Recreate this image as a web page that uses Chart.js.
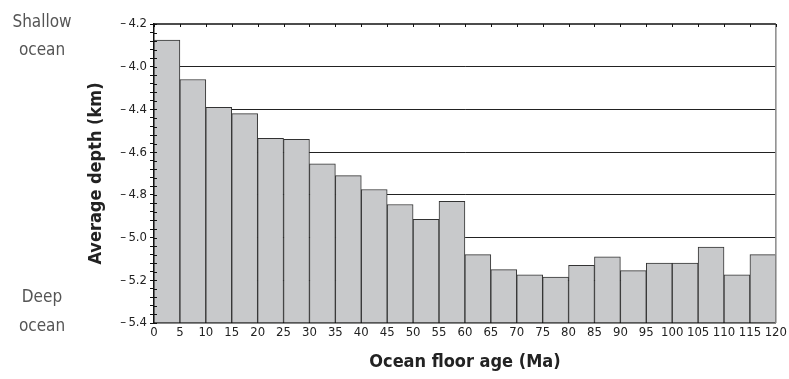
<!DOCTYPE html>
<html>
<head>
<meta charset="utf-8">
<script src="https://cdn.jsdelivr.net/npm/chart.js@4/dist/chart.umd.min.js"></script>
<style>
  html, body { margin: 0; padding: 0; background: #fff; }
  #wrap { width: 789px; height: 379px; }
</style>
</head>
<body>
<div id="wrap"><canvas id="myChart"></canvas></div>
<script>
// data
const ageBinStart = [0, 5, 10, 15, 20, 25, 30, 35, 40, 45, 50, 55, 60, 65, 70, 75, 80, 85, 90, 95, 100, 105, 110, 115];
const avgDepth = [-4.075, -4.26, -4.39, -4.42, -4.535, -4.54, -4.655, -4.71, -4.775, -4.845, -4.915, -4.83,
                  -5.08, -5.15, -5.175, -5.185, -5.13, -5.09, -5.155, -5.12, -5.12, -5.045, -5.175, -5.08];
const xTickValues = [0, 5, 10, 15, 20, 25, 30, 35, 40, 45, 50, 55, 60, 65, 70, 75, 80, 85, 90, 95, 100, 105, 110, 115, 120];
const yTickValues = [-4.0, -4.2, -4.4, -4.6, -4.8, -5.0, -5.2, -5.4];
const yTickLabels = ['\u2013\u20094.2', '\u2013\u20094.0', '\u2013\u20094.4', '\u2013\u20094.6', '\u2013\u20094.8', '\u2013\u20095.0', '\u2013\u20095.2', '\u2013\u20095.4'];
const sideLabels = [['Shallow', 'ocean'], ['Deep', 'ocean']];

const narrow = '"DejaVu Sans Condensed", "Liberation Sans Narrow", sans-serif';
const binWidth = 5;
const yMin = -5.4, yMax = -4.0;

function majorIndex(v) {
    for (let i = 0; i < yTickValues.length; i++) {
        if (Math.abs(v - yTickValues[i]) < 1e-6) return i;
    }
    return -1;
}

// frame, inner tick marks and side notes
const framePlugin = {
    id: 'frame',
    afterDraw(chart) {
        const c = chart.ctx, a = chart.chartArea;
        const x = chart.scales.x, y = chart.scales.y;
        c.save();
        // right border
        c.strokeStyle = '#8a8a8a';
        c.lineWidth = 1.5;
        c.beginPath();
        c.moveTo(a.right, a.top);
        c.lineTo(a.right, a.bottom);
        c.stroke();
        // top border
        c.strokeStyle = '#111';
        c.beginPath();
        c.moveTo(a.left, a.top);
        c.lineTo(a.right, a.top);
        c.stroke();
        // small ticks under top border
        c.lineWidth = 1;
        xTickValues.forEach(v => {
            const px = Math.round(x.getPixelForValue(v)) + 0.5;
            c.beginPath();
            c.moveTo(px, a.top);
            c.lineTo(px, a.top + 3);
            c.stroke();
        });
        // inner part of y ticks
        y.ticks.forEach(t => {
            const py = Math.round(y.getPixelForValue(t.value)) + 0.5;
            c.beginPath();
            c.moveTo(a.left, py);
            c.lineTo(a.left + 3, py);
            c.stroke();
        });
        // side notes
        c.fillStyle = '#555';
        c.font = '17px ' + narrow;
        c.textAlign = 'center';
        c.textBaseline = 'alphabetic';
        c.fillText(sideLabels[0][0], 42, 27);
        c.fillText(sideLabels[0][1], 42, 55);
        c.fillText(sideLabels[1][0], 42, 302);
        c.fillText(sideLabels[1][1], 42, 331);
        c.restore();
    }
};

// Create the chart
const ctx = document.getElementById('myChart');
const myChart = new Chart(ctx, {
    type: 'bar',
    data: {
        datasets: [{
            label: 'Average depth',
            data: ageBinStart.map((a, i) => ({ x: a + binWidth / 2, y: avgDepth[i] })),
            base: yMin,
            backgroundColor: '#c8c9cb',
            borderColor: '#333',
            borderWidth: 1,
            barPercentage: 1,
            categoryPercentage: 1
        }]
    },
    options: {
        responsive: true,
        maintainAspectRatio: false,
        animation: false,
        layout: { padding: { left: 80, right: 13, top: 24, bottom: 0 } },
        plugins: {
            legend: { display: false },
            tooltip: { enabled: false }
        },
        scales: {
            x: {
                type: 'linear',
                min: 0,
                max: 120,
                offset: false,
                grid: { display: false, drawTicks: false },
                border: { display: true, color: '#111', width: 1.5 },
                ticks: {
                    stepSize: 5,
                    autoSkip: false,
                    maxRotation: 0,
                    padding: 2,
                    color: '#222',
                    font: { family: narrow, size: 13 }
                },
                title: {
                    display: true,
                    text: 'Ocean floor age (Ma)',
                    color: '#222',
                    font: { family: narrow, size: 18, weight: 'bold' },
                    padding: { top: 6, bottom: 6 }
                },
                afterFit(s) { s.height = 56; }
            },
            y: {
                min: yMin,
                max: yMax,
                grid: {
                    color: c => {
                        const i = majorIndex(c.tick.value);
                        return (i > 0 && i < yTickValues.length - 1) ? '#222' : 'rgba(0,0,0,0)';
                    },
                    tickColor: '#111',
                    tickLength: 4,
                    lineWidth: 1
                },
                border: { display: true, color: '#111', width: 1.5 },
                ticks: {
                    stepSize: 0.04,
                    autoSkip: false,
                    padding: 3,
                    color: '#222',
                    font: { family: narrow, size: 13 },
                    callback: v => {
                        const i = majorIndex(v);
                        return i >= 0 ? yTickLabels[i] : '';
                    }
                },
                title: {
                    display: true,
                    text: 'Average depth (km)',
                    color: '#222',
                    font: { family: narrow, size: 18, weight: 'bold' },
                    padding: { top: 6, bottom: 4 }
                },
                afterFit(s) { s.width = 74; }
            }
        }
    },
    plugins: [framePlugin]
});
</script>
</body>
</html>
